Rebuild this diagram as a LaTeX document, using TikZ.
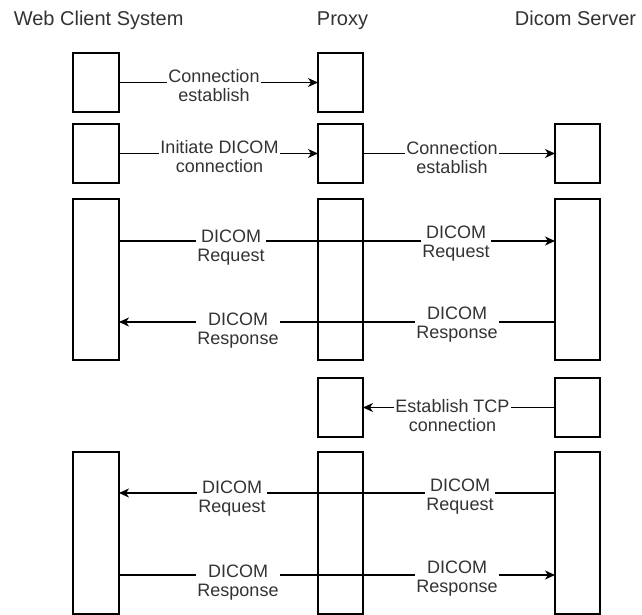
\documentclass[tikz,border=0pt]{standalone}
\usepackage{fontspec}
\setmainfont{Liberation Sans}
\usetikzlibrary{arrows.meta}
\definecolor{txt}{HTML}{333333}
\begin{document}
\begin{tikzpicture}[x=1pt,y=-1pt,
  box/.style={draw=black, line width=1.3pt, minimum width=45pt, inner sep=0pt, outer sep=0pt},
  wire/.style={draw=black, line width=1.3pt},
  conn/.style={wire, -{Stealth[length=10pt,width=9pt,inset=3pt]}},
  lbl/.style={fill=white, text=txt, font=\fontsize{18}{19}\selectfont, align=center, inner sep=1pt, anchor=base, yshift=-19pt},
  ttl/.style={text=txt, font=\fontsize{20}{24}\selectfont, anchor=base, inner sep=0pt}]
\useasboundingbox (0,0) rectangle (642,615);

% titles
\node[ttl] (tc) at (98.7,25.7) {Web Client System};
\node[ttl] (tp) at (342.5,25.7) {Proxy};
\node[ttl] (ts) at (575.5,25.7) {Dicom Server};

% row 1
\node[box, minimum width=46pt, minimum height=59pt] (c1) at (96,82.5) {};
\node[box, minimum height=59pt] (p1) at (340.5,82.5) {};
% row 2
\node[box, minimum width=46pt, minimum height=59pt] (c2) at (96,153.5) {};
\node[box, minimum height=59pt] (p2) at (340.5,153.5) {};
\node[box, minimum height=59pt] (s2) at (577.5,153.5) {};
% row 3
\node[box, minimum width=46pt, minimum height=161pt] (c3) at (96,279.5) {};
\node[box, minimum height=161pt] (p3) at (340.5,279.5) {};
\node[box, minimum height=161pt] (s3) at (577.5,279.5) {};
% row 4
\node[box, minimum height=59pt] (p4) at (340.5,407.5) {};
\node[box, minimum height=59pt] (s4) at (577.5,407.5) {};
% row 5
\node[box, minimum width=46pt, minimum height=162pt] (c5) at (96,533) {};
\node[box, minimum height=162pt] (p5) at (340.5,533) {};
\node[box, minimum height=162pt] (s5) at (577.5,533) {};

\coordinate (y3a) at (0,241);
\coordinate (y3b) at (0,322);
\coordinate (y5a) at (0,493);
\coordinate (y5b) at (0,575);

% connectors
\draw[conn] (c1.east) -- (p1.west);
\draw[conn] (c2.east) -- (p2.west);
\draw[conn] (p2.east) -- (s2.west);
\draw[conn] (c3.east |- y3a) -- (s3.west |- y3a);
\draw[conn] (s3.west |- y3b) -- (c3.east |- y3b);
\draw[conn] (s4.west) -- (p4.east);
\draw[conn] (s5.west |- y5a) -- (c5.east |- y5a);
\draw[conn] (c5.east |- y5b) -- (s5.west |- y5b);

% labels (positions give the baseline of the first line)
\node[lbl] (l1) at (214,83) {Connection\\establish};
\node[lbl] (l2a) at (219.5,153.5) {Initiate DICOM\\connection};
\node[lbl] (l2b) at (452,154) {Connection\\establish};
\node[lbl] (l3a) at (231,242) {DICOM\\Request};
\node[lbl] (l3b) at (456,238) {DICOM\\Request};
\node[lbl] (l3c) at (238,325) {DICOM\\Response};
\node[lbl] (l3d) at (457,319) {DICOM\\Response};
\node[lbl] (l4) at (452.5,412) {Establish TCP\\connection};
\node[lbl] (l5a) at (232,493) {DICOM\\Request};
\node[lbl] (l5b) at (460,491) {DICOM\\Request};
\node[lbl] (l5c) at (238,577) {DICOM\\Response};
\node[lbl] (l5d) at (457,573) {DICOM\\Response};
\end{tikzpicture}
\end{document}
